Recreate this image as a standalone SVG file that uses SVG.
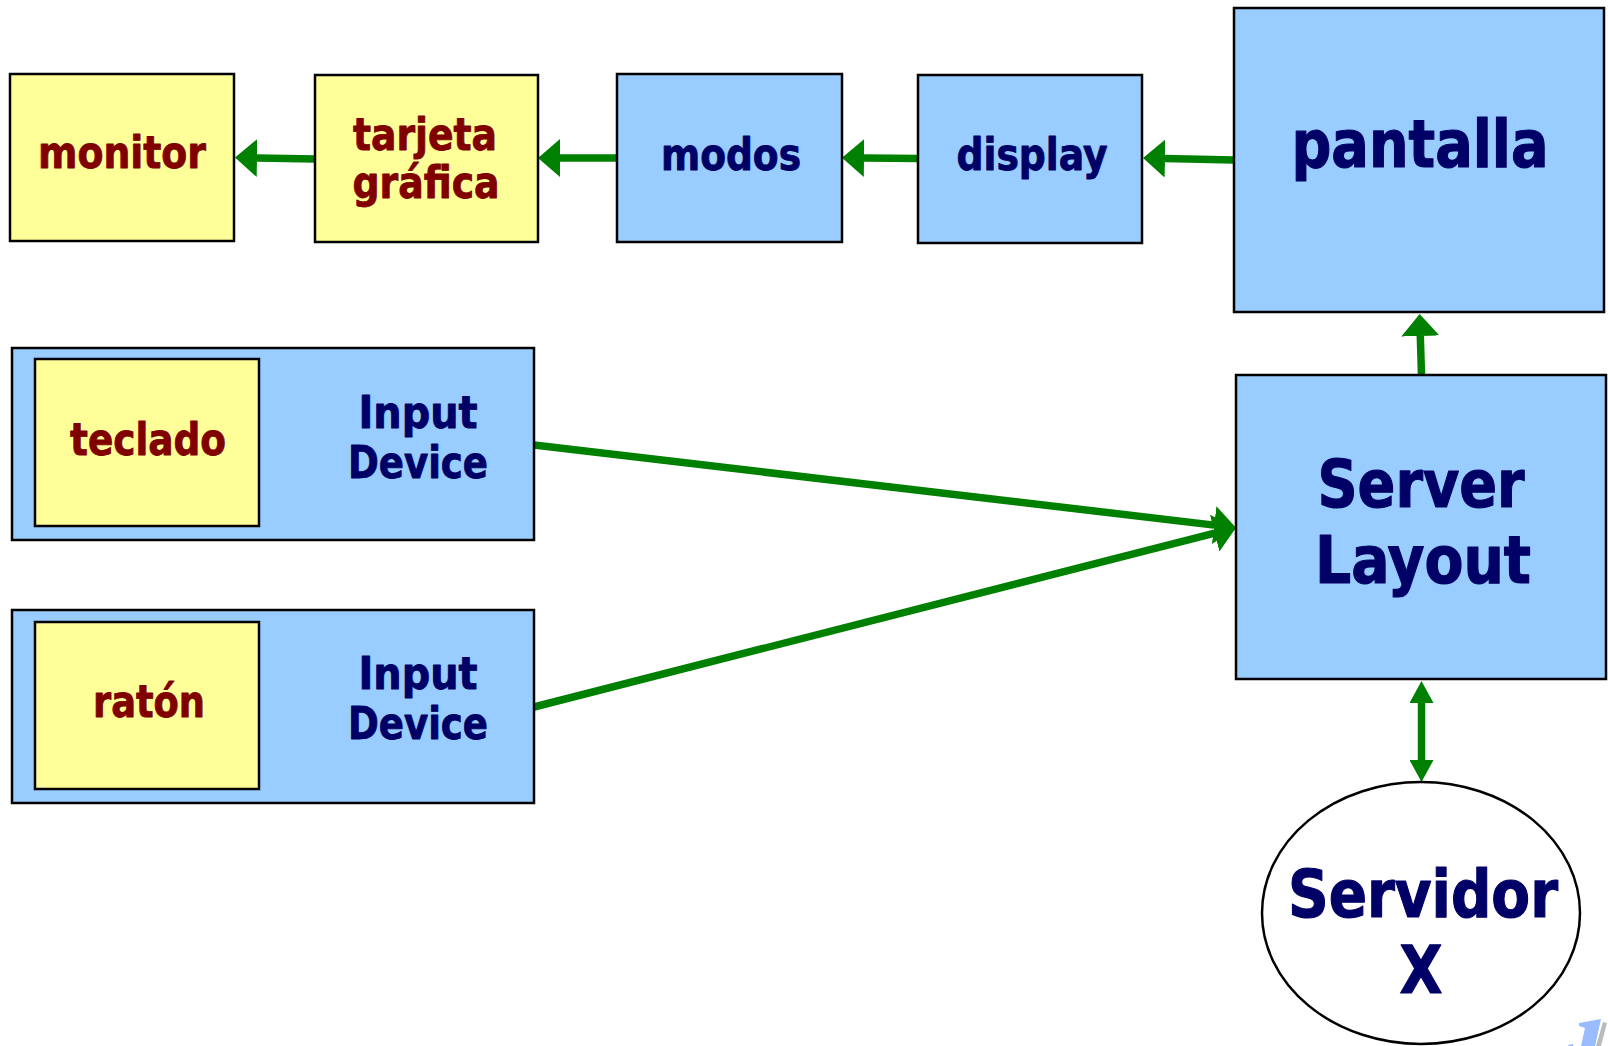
<svg xmlns="http://www.w3.org/2000/svg" width="1608" height="1046" viewBox="0 0 1608 1046">
  <style>
    .yellow { fill: #FFFF99; stroke: #000; stroke-width: 2.5; }
    .blue { fill: #99CCFF; stroke: #000; stroke-width: 2.5; }
    .oval { fill: #FFFFFF; stroke: #000; stroke-width: 2.5; }
    .lbl { font-family: "DejaVu Sans Condensed", "DejaVu Sans", "Liberation Sans", sans-serif; font-weight: bold; text-anchor: middle; stroke-width: 0.8; stroke-linejoin: round; }
    .red { fill: #800000; stroke: #800000; font-size: 44px; }
    .navy { fill: #000066; stroke: #000066; font-size: 44px; }
    .big { font-size: 65px; stroke-width: 1.1; }
    .link { stroke: #008000; stroke-width: 7.5; fill: none; }
  </style>
  <defs>
    <marker id="head" markerUnits="userSpaceOnUse" markerWidth="22" markerHeight="38" viewBox="0 -19 22 38" refX="0" refY="0" orient="auto">
      <path d="M0,-19 L22,0 L0,19 Z" fill="#008000"/>
    </marker>
    <marker id="headSmall" markerUnits="userSpaceOnUse" markerWidth="22" markerHeight="24" viewBox="0 -12 22 24" refX="0" refY="0" orient="auto-start-reverse">
      <path d="M0,-12 L22,0 L0,12 Z" fill="#008000"/>
    </marker>
  </defs>

  <!-- connectors -->
  <g id="connectors">
    <line class="link" x1="1234" y1="160" x2="1165" y2="158.5" marker-end="url(#head)"/>
    <line class="link" x1="918" y1="158.5" x2="864" y2="158" marker-end="url(#head)"/>
    <line class="link" x1="617" y1="158" x2="560" y2="158" marker-end="url(#head)"/>
    <line class="link" x1="315" y1="159" x2="257" y2="158" marker-end="url(#head)"/>
    <line class="link" x1="1421.5" y1="375" x2="1420.3" y2="336" marker-end="url(#head)"/>
    <line class="link" x1="1421.5" y1="703" x2="1421.5" y2="760" marker-start="url(#headSmall)" marker-end="url(#headSmall)"/>
    <line class="link" x1="534" y1="445" x2="1214.2" y2="525.1" marker-end="url(#head)"/>
    <line class="link" x1="534" y1="707" x2="1214.7" y2="533.1" marker-end="url(#head)"/>
  </g>

  <g id="monitor">
    <rect class="yellow" x="10" y="74" width="224" height="167"/>
    <text class="lbl red" x="122" y="168" textLength="168" lengthAdjust="spacingAndGlyphs">monitor</text>
  </g>

  <g id="tarjeta">
    <rect class="yellow" x="315" y="75" width="223" height="167"/>
    <text class="lbl red" x="425" y="150" textLength="144" lengthAdjust="spacingAndGlyphs">tarjeta</text>
    <text class="lbl red" x="426" y="198" textLength="147" lengthAdjust="spacingAndGlyphs">gráfica</text>
  </g>

  <g id="modos">
    <rect class="blue" x="617" y="74" width="225" height="168"/>
    <text class="lbl navy" x="731" y="170" textLength="140" lengthAdjust="spacingAndGlyphs">modos</text>
  </g>

  <g id="display">
    <rect class="blue" x="918" y="75" width="224" height="168"/>
    <text class="lbl navy" x="1032" y="170" textLength="151" lengthAdjust="spacingAndGlyphs">display</text>
  </g>

  <g id="pantalla">
    <rect class="blue" x="1234" y="8" width="370" height="304"/>
    <text class="lbl navy big" x="1420" y="167" textLength="257" lengthAdjust="spacingAndGlyphs">pantalla</text>
  </g>

  <g id="input-teclado">
    <rect class="blue" x="12" y="348" width="522" height="192"/>
    <rect class="yellow" x="35" y="359" width="224" height="167"/>
    <text class="lbl red" x="148" y="455" textLength="156" lengthAdjust="spacingAndGlyphs">teclado</text>
    <text class="lbl navy" x="418" y="428" textLength="119" lengthAdjust="spacingAndGlyphs">Input</text>
    <text class="lbl navy" x="418" y="478" textLength="140" lengthAdjust="spacingAndGlyphs">Device</text>
  </g>

  <g id="input-raton">
    <rect class="blue" x="12" y="610" width="522" height="193"/>
    <rect class="yellow" x="35" y="622" width="224" height="167"/>
    <text class="lbl red" x="149" y="717" textLength="112" lengthAdjust="spacingAndGlyphs">ratón</text>
    <text class="lbl navy" x="418" y="689" textLength="119" lengthAdjust="spacingAndGlyphs">Input</text>
    <text class="lbl navy" x="418" y="739" textLength="140" lengthAdjust="spacingAndGlyphs">Device</text>
  </g>

  <g id="server-layout">
    <rect class="blue" x="1236" y="375" width="370" height="304"/>
    <text class="lbl navy big" x="1421" y="507" textLength="207" lengthAdjust="spacingAndGlyphs">Server</text>
    <text class="lbl navy big" x="1423" y="583" textLength="216" lengthAdjust="spacingAndGlyphs">Layout</text>
  </g>

  <g id="servidor-x">
    <ellipse class="oval" cx="1421" cy="913" rx="159" ry="131"/>
    <text class="lbl navy big" x="1423" y="917" textLength="270" lengthAdjust="spacingAndGlyphs">Servidor</text>
    <text class="lbl navy big" x="1421" y="993" textLength="43" lengthAdjust="spacingAndGlyphs">X</text>
  </g>

  <!-- corner logo fragment -->
  <g id="corner-mark">
    <polygon points="1603,1022 1607,1023 1601,1046 1596,1046" fill="#BBBBBB"/>
    <polygon points="1579,1023 1601,1019 1595,1046 1581,1046 1585,1028 1579,1026" fill="#99BBFF"/>
    <polygon points="1568,1045 1573,1044 1573,1046 1568,1046" fill="#99BBFF"/>
  </g>
</svg>
